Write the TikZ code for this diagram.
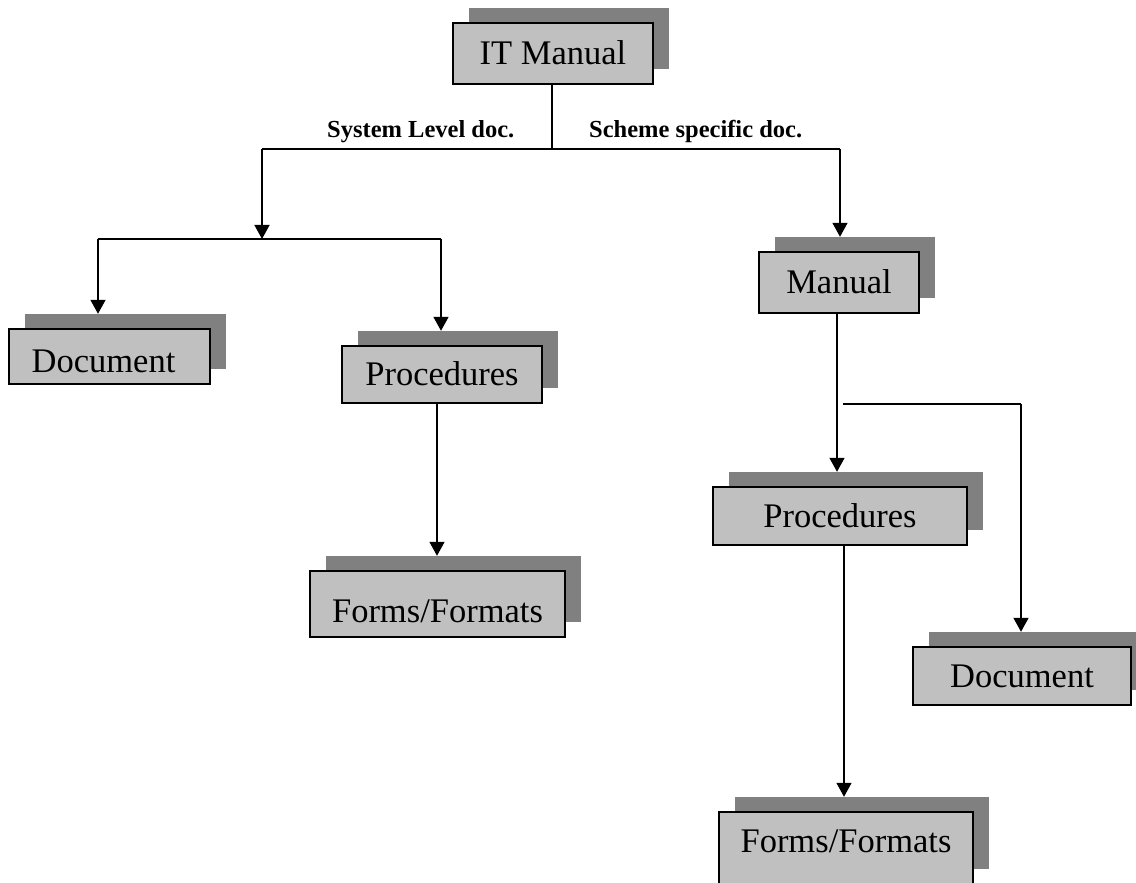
\documentclass[tikz,border=0pt]{standalone}
\usepackage{fontspec}
\setmainfont{Liberation Serif}
\usetikzlibrary{shadows,arrows.meta}
\definecolor{boxgray}{HTML}{C0C0C0}
\definecolor{shadowgray}{HTML}{808080}
\tikzset{
  box/.style={draw=black, line width=1.4pt, fill=boxgray, inner sep=0pt,
    text height=23pt, text depth=0pt, font=\fontsize{34.5}{40}\selectfont,
    general shadow={fill=shadowgray, shadow xshift=15.5pt, shadow yshift=14.5pt}},
  lbl/.style={inner sep=0pt, font=\bfseries\fontsize{24.5}{28}\selectfont},
  ln/.style={line width=1.6pt},
  arr/.style={line width=1.6pt, -{Triangle[length=14pt,width=15pt]}},
}
\begin{document}
\begin{tikzpicture}[x=1pt,y=1pt]
\useasboundingbox (0,0) rectangle (1136,883);
% boxes
\node[box, minimum width=200pt, minimum height=61pt] (itm) at (553,829.5) {IT Manual};
\node[box, minimum width=201pt, minimum height=55pt, text height=33pt] (docL) at (109.5,526.5) {\hbox{Document\kern12pt}};
\node[box, minimum width=200pt, minimum height=57pt] (procL) at (442,508.5) {Procedures};
\node[box, minimum width=255pt, minimum height=66pt, text height=37pt] (formL) at (437.5,279) {Forms/Formats};
\node[box, minimum width=160pt, minimum height=61pt] (manual) at (839,600.5) {Manual};
\node[box, minimum width=254pt, minimum height=58pt] (procR) at (840,367) {Procedures};
\node[box, minimum width=218pt, minimum height=58pt] (docR) at (1022,207) {Document};
\node[box, minimum width=254pt, minimum height=72pt, text depth=14pt] (formR) at (846,35) {Forms/Formats};
% shadow tops (arrow targets)
\coordinate (docLt) at ([yshift=14.5pt]docL.north);
\coordinate (procLt) at ([yshift=14.5pt]procL.north);
\coordinate (formLt) at ([yshift=14.5pt]formL.north);
\coordinate (manualt) at ([yshift=14.5pt]manual.north);
\coordinate (procRt) at ([yshift=14.5pt]procR.north);
\coordinate (docRt) at ([yshift=14.5pt]docR.north);
\coordinate (formRt) at ([yshift=14.5pt]formR.north);
% labels
\node[lbl, anchor=base west] (sys) at (327,745) {System Level doc.};
\node[lbl, anchor=base west] (sch) at (589,745) {Scheme specific doc.};
% junction coordinates
\coordinate (j0) at (552,734);
\coordinate (jL) at (262,734);
\coordinate (jR) at (840,734);
\coordinate (hL) at (262,644);
\coordinate (hLa) at (98,644);
\coordinate (hLb) at (441,644);
\coordinate (hR) at (843,479);
\coordinate (hRb) at (1021,479);
\coordinate (mD) at ([xshift=-2pt]manual.south);
\coordinate (pLD) at ([xshift=-5pt]procL.south);
\coordinate (pRD) at ([xshift=4pt]procR.south);
% connectors
\draw[ln] ([xshift=-1pt]itm.south) -- (j0);
\draw[ln] (jL) -- (jR);
\draw[arr] (jL) -- (hL);
\draw[ln] (hLa) -- (hLb);
\draw[arr] (hLa) -- (hLa |- docLt);
\draw[arr] (hLb) -- (hLb |- procLt);
\draw[arr] (jR) -- (jR |- manualt);
\draw[arr] (mD) -- (mD |- procRt);
\draw[ln] (hR) -- (hRb);
\draw[arr] (hRb) -- (hRb |- docRt);
\draw[arr] (pLD) -- (pLD |- formLt);
\draw[arr] (pRD) -- (pRD |- formRt);
\end{tikzpicture}
\end{document}
